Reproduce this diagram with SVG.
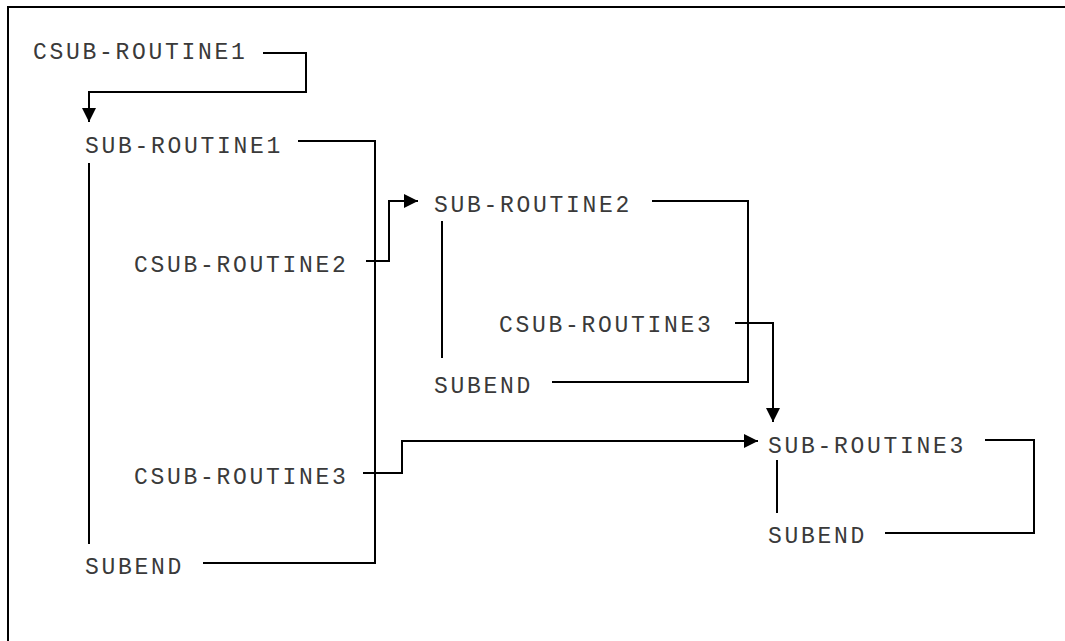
<svg xmlns="http://www.w3.org/2000/svg" width="1065" height="641" viewBox="0 0 1065 641">
<style>
  text { font-family: "Liberation Mono", "Courier New", monospace; font-size: 23px; letter-spacing: 2.7px; fill: #3a3a3a; }
  .c { fill: none; stroke: #000; stroke-width: 2; }
  .a { marker-end: url(#arrow); }
</style>
<defs>
  <marker id="arrow" markerUnits="userSpaceOnUse" markerWidth="14" markerHeight="14" refX="14" refY="7" orient="auto" viewBox="0 0 14 14">
    <path d="M0,0 L14,7 L0,14 z" fill="#000"/>
  </marker>
</defs>
<rect x="0" y="0" width="1065" height="641" fill="#fff"/>
<rect x="8" y="7" width="1080" height="660" fill="none" stroke="#000" stroke-width="2"/>
<g id="connectors">
  <path class="c a" d="M263,53 H306 V92 H89 V122"/>
  <path class="c" d="M298,141 H375 V563 H203"/>
  <path class="c" d="M89,163 V544"/>
  <path class="c a" d="M366,261 H389 V201 H418"/>
  <path class="c" d="M652,201 H748 V382 H552"/>
  <path class="c" d="M442,221 V358"/>
  <path class="c a" d="M735,323 H773 V422"/>
  <path class="c a" d="M363,473 H402 V441 H758"/>
  <path class="c" d="M985,440 H1034 V533 H885"/>
  <path class="c" d="M777,460 V513"/>
</g>
<g id="csub1"><text x="33" y="59">CSUB-ROUTINE1</text></g>
<g id="sub1"><text x="85" y="153">SUB-ROUTINE1</text></g>
<g id="csub2"><text x="134" y="272">CSUB-ROUTINE2</text></g>
<g id="csub3a"><text x="134" y="484">CSUB-ROUTINE3</text></g>
<g id="subend1"><text x="85" y="574">SUBEND</text></g>
<g id="sub2"><text x="434" y="212">SUB-ROUTINE2</text></g>
<g id="csub3b"><text x="499" y="332">CSUB-ROUTINE3</text></g>
<g id="subend2"><text x="434" y="393">SUBEND</text></g>
<g id="sub3"><text x="768" y="453">SUB-ROUTINE3</text></g>
<g id="subend3"><text x="768" y="543">SUBEND</text></g>
</svg>
